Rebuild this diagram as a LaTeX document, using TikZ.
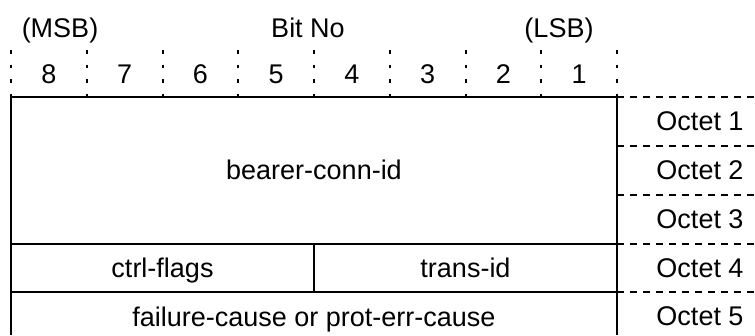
\documentclass[tikz,border=0pt]{standalone}
\usepackage{fontspec}
\setmainfont{Liberation Sans}
\tikzset{
  field/.style={line width=2pt},
  octetrule/.style={line width=2pt, dash pattern=on 7pt off 6pt},
  bittick/.style={line width=2pt, dash pattern=on 3.5pt off 11pt},
  lbl/.style={anchor=base, inner sep=0pt, font=\fontsize{27}{31}\selectfont}
}
\begin{document}
\begin{tikzpicture}[x=1pt, y=-1pt]
  \useasboundingbox (0,0) rectangle (755,335);
  % header
  \node[lbl] (msb) at (60,37) {(MSB)};
  \node[lbl] (bitno) at (308,37) {Bit No};
  \node[lbl] (lsb) at (559,37) {(LSB)};
  % bit numbers and ticks
  \foreach \i in {0,...,8}
    \draw[bittick] (11+75.75*\i,50) -- (11+75.75*\i,97);
  \foreach \b [count=\i from 0] in {8,7,6,5,4,3,2,1}
    \node[lbl] (bit\b) at (11+75.75*\i+37.875,83) {\b};
  % octet boundaries
  \coordinate (tl) at (11,97);
  \coordinate (tr) at (617,97);
  \coordinate (bl) at (11,335);
  \coordinate (br) at (617,335);
  \coordinate (mid) at (314,244);
  \draw[field] (bl) -- (tl) -- (tr) -- (br);
  \draw[field] (11,244) -- (617,244);
  \draw[field] (11,292) -- (617,292);
  \draw[field] (mid) -- (314,292);
  \foreach \y in {97,146,195,244,292}
    \draw[octetrule] (617,\y) -- (755,\y);
  % fields
  \node[lbl] (bearer) at (314,179.5) {bearer-conn-id};
  \node[lbl] (flags) at (162.5,277.5) {ctrl-flags};
  \node[lbl] (trans) at (465.5,277.5) {trans-id};
  \node[lbl] (cause) at (314,326) {failure-cause or prot-err-cause};
  % octet labels
  \foreach \y [count=\n] in {121.5,170.5,219.5,268,316.5}
    \node[lbl] (octet\n) at (700,\y+9) {Octet \n};
\end{tikzpicture}
\end{document}
